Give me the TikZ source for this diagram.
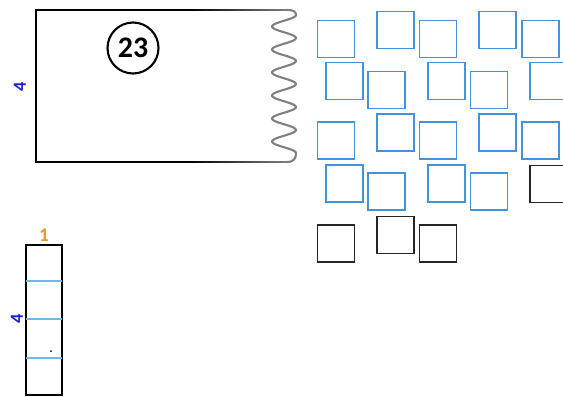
\documentclass[tikz,border=0pt]{standalone}
\usepackage{fontspec}
\setmainfont{Carlito}
\definecolor{tileblue}{RGB}{66,146,222}
\definecolor{lineblue}{RGB}{110,185,235}
\definecolor{numblue}{RGB}{30,30,215}
\definecolor{numorange}{RGB}{232,150,40}
\tikzset{tl/.style={draw=tileblue, line width=1pt, minimum size=0.74cm, inner sep=0pt}}
\tikzset{tk/.style={tl, draw=black!85, line width=0.9pt}}
\tikzset{nm/.style={font=\bfseries\fontsize{10.5}{10}\selectfont, inner sep=0pt}}
\tikzset{edge/.style={line width=1.2pt}}

\begin{document}
\begin{tikzpicture}[x=0.02cm,y=-0.02cm]
                \useasboundingbox (0,0) rectangle (563,396);
                % big plate with torn edge
                \coordinate (tl) at (36,10);
                \coordinate (bl) at (36,162);
                \draw[edge] (190,10) -- (tl) -- (bl) -- (190,162);
                \shade[left color=black, right color=black!50] (190,9.1) rectangle (288,10.9);
                \shade[left color=black, right color=black!50] (190,161.1) rectangle (288,162.9);
                \draw[edge, black!50] (287,10) .. controls (294,10) and (296,12) .. (296,15)
                    -- plot[domain=15:153, samples=120] ({284+12*cos((\x-15)*15.652)}, \x)
                    .. controls (296,158) and (294,162) .. (287,162);
                \node[draw, circle, line width=1.2pt, minimum size=1.02cm, inner sep=0pt,
                    font=\bfseries\fontsize{17}{17}\selectfont] (c23) at (133,48) {23};
                \node[nm, text=numblue, rotate=90] (h1) at (20,86.5) {4};
                % tiles
                \node[tl] (a1) at (336,39) {};
                \node[tl] (a2) at (395.5,30) {};
                \node[tl] (a3) at (438,39) {};
                \node[tl] (a4) at (497.5,30) {};
                \node[tl] (a5) at (540.5,39) {};
                \node[tl] (b1) at (344.5,81) {};
                \node[tl] (b2) at (386.5,90) {};
                \node[tl] (b3) at (446.5,81) {};
                \node[tl] (b4) at (489,90) {};
                \node[tl] (b5) at (548.5,81) {};
                \node[tl] (c1) at (336,140.5) {};
                \node[tl] (c2) at (395.5,132.5) {};
                \node[tl] (c3) at (438,140.5) {};
                \node[tl] (c4) at (497.5,132.5) {};
                \node[tl] (c5) at (540.5,140.5) {};
                \node[tl] (d1) at (344.5,183.5) {};
                \node[tl] (d2) at (386.5,191.5) {};
                \node[tl] (d3) at (446.5,183.5) {};
                \node[tl] (d4) at (489,191.5) {};
                \node[tk] (d5) at (548.5,184) {};
                \node[tk] (e1) at (336,243.5) {};
                \node[tk] (e2) at (395.5,235) {};
                \node[tk] (e3) at (438,243.5) {};
                % narrow column
                \node[draw, line width=1.2pt, minimum width=0.72cm, minimum height=3.0cm,
                    inner sep=0pt, anchor=north] (col) at (44,244) {};
                \draw[lineblue, line width=0.6pt] (26,281) -- (62,281);
                \draw[lineblue, line width=0.6pt] (26,319) -- (62,319);
                \draw[lineblue, line width=0.6pt] (26,358) -- (62,358);
                \node[nm, text=numorange, font=\bfseries\fontsize{11}{10}\selectfont] (w1) at (44,235.5) {1};
                \node[nm, text=numblue, rotate=90] (h2) at (17,319) {4};
                \fill (51,351) circle (1);
            \end{tikzpicture}
\end{document}
